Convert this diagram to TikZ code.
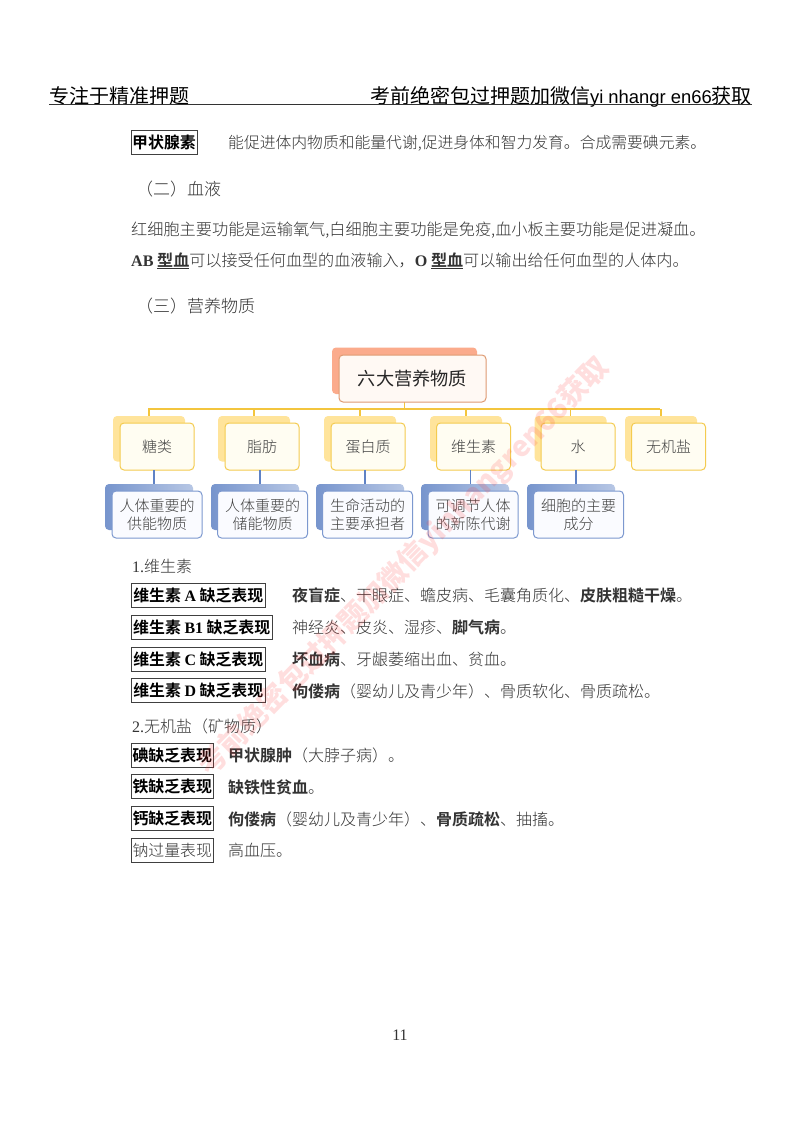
\documentclass[tikz,border=0pt]{standalone}
\usepackage{fontspec}
\setmainfont[UprightFont=* Light,BoldFont=* Bold]{Noto Sans CJK SC}
\newfontfamily\latserif{Liberation Serif}
\newfontfamily\latsans{Liberation Sans}
\newfontfamily\cjkreg{Noto Sans CJK SC}
\newcommand{\lat}[1]{{\latserif #1}}
\newcommand{\fs}[1]{\fontsize{#1pt}{18pt}\selectfont}
\usetikzlibrary{calc}
\definecolor{ink}{HTML}{333333}
\definecolor{cjkdark}{HTML}{404040}
\definecolor{busy}{HTML}{F3C53D}
\definecolor{busb}{HTML}{5F82C4}
\definecolor{rootb}{HTML}{DE9A72}
\definecolor{rootsh}{HTML}{FBAB8C}
\definecolor{ysh}{HTML}{FFE49B}
\definecolor{yb}{HTML}{F4CB4F}
\definecolor{bb}{HTML}{7C98CF}
\definecolor{rootfill}{HTML}{FFF9F4}
\definecolor{yfill}{HTML}{FFFDF2}
\definecolor{bfill}{HTML}{FAFBFF}
\tikzset{
  x=1pt,y=-1pt,
  body/.style={anchor=base west,inner sep=0pt,text=ink,font=\fs{16}},
  lab/.style={draw=black!75,line width=1pt,inner sep=0pt,text=black,font=\fs{15.9}\bfseries,minimum height=24pt,align=center},
  labthin/.style={draw=black!75,line width=1pt,inner sep=0pt,text=ink,font=\fs{15.9},minimum height=24pt,align=center},
  rootshadow/.style={fill=rootsh,rounded corners=4pt,minimum width=145pt,minimum height=46.5pt,inner sep=0pt},
  rootbox/.style={draw=rootb,line width=1pt,fill=rootfill,rounded corners=4pt,minimum width=147pt,minimum height=47pt,inner sep=0pt,text=black!85,font=\cjkreg\fs{18.2}},
  yshadow/.style={fill=ysh,rounded corners=4pt,minimum width=72pt,minimum height=45.5pt,inner sep=0pt},
  ybox/.style={draw=yb,line width=1pt,fill=yfill,rounded corners=4pt,minimum width=74pt,minimum height=47pt,inner sep=0pt,text=cjkdark,font=\fs{15}},
  bshadow/.style={left color=busb!85,right color=busb!45,rounded corners=4pt,minimum width=88pt,minimum height=46pt,inner sep=0pt},
  bbox/.style={draw=bb,line width=1pt,fill=bfill,rounded corners=4pt,minimum width=90pt,minimum height=47pt,inner sep=0pt,text=cjkdark,font=\fs{15},align=center},
  buslink/.style={draw=busy,line width=1.5pt},
  sublink/.style={draw=busb,line width=1.2pt},
}
\begin{document}
\begin{tikzpicture}
\path[use as bounding box,fill=white] (0,0) rectangle (800,1124);

% header
\node[anchor=base west,inner sep=0pt,text=black,font=\cjkreg\fs{20}] (hl) at (49,103) {专注于精准押题};
\node[anchor=base east,inner sep=0pt,text=black,font=\cjkreg\fs{20}] (hr) at (752,103) {考前绝密包过押题加微信{\latsans\fs{18.4}yi nhangr en66}获取};
\coordinate (rulel) at (49,104.5);
\coordinate (ruler) at (752,104.5);
\draw[line width=1.6pt,black!80] (rulel) -- (ruler);

% paragraph text
\node[lab,minimum width=66pt] (thy) at (164,142) {甲状腺素};
\node[body,font=\fs{15.8}] (thyt) at (228,148) {能促进体内物质和能量代谢,促进身体和智力发育。合成需要碘元素。};
\node[body,font=\fs{17}] (h2) at (136,195) {（二）血液};
\node[body,font=\fs{16.18}] (p1) at (131,235) {红细胞主要功能是运输氧气,白细胞主要功能是免疫,血小板主要功能是促进凝血。};
\node[body,font=\fs{16.1}] (p2) at (131,266) {\textbf{\lat{AB} \underline{型血}}可以接受任何血型的血液输入，\textbf{\lat{O} \underline{型血}}可以输出给任何血型的人体内。};
\node[body,font=\fs{17}] (h3) at (136,312) {（三）营养物质};

% diagram
\coordinate (busl) at (148,409);
\coordinate (busr) at (660,409);
\node[rootshadow] (rs) at (404.5,370.75) {};
\node[yshadow] (s1) at (149,438.75) {};
\node[yshadow] (s2) at (254,438.75) {};
\node[yshadow] (s3) at (360,438.75) {};
\node[yshadow] (s4) at (466,438.75) {};
\node[yshadow] (s5) at (570.5,438.75) {};
\node[yshadow] (s6) at (661,438.75) {};
\node[bshadow] (t1) at (149,507) {};
\node[bshadow] (t2) at (255,507) {};
\node[bshadow] (t3) at (360,507) {};
\node[bshadow] (t4) at (465,507) {};
\node[bshadow] (t5) at (571,507) {};
\draw[buslink] (busl) -- (busr);
\draw[buslink] (rs.south) -- (rs.south |- busl);
\foreach \n in {s1,s2,s3,s4,s5,s6} \draw[buslink] (\n.north) -- (\n.north |- busl);
\node[rootbox] (root) at (412.5,378.5) {六大营养物质};
\node[ybox] (b1) at (157,446.5) {糖类};
\node[ybox] (b2) at (262,446.5) {脂肪};
\node[ybox] (b3) at (368,446.5) {蛋白质};
\node[ybox] (b4) at (473.5,446.5) {维生素};
\node[ybox] (b5) at (578,446.5) {水};
\node[ybox] (b6) at (668.5,446.5) {无机盐};
\coordinate (c1) at (154,470);
\coordinate (c2) at (260,470);
\coordinate (c3) at (365,470);
\coordinate (c4) at (470.5,470);
\coordinate (c5) at (576,470);
\foreach \i in {1,2,3,4,5} \draw[sublink] (c\i) -- (c\i |- t\i.north);
\node[bbox] (d1) at (157,514.5) {人体重要的\\供能物质};
\node[bbox] (d2) at (262.5,514.5) {人体重要的\\储能物质};
\node[bbox] (d3) at (367.5,514.5) {生命活动的\\主要承担者};
\node[bbox] (d4) at (473,514.5) {可调节人体\\的新陈代谢};
\node[bbox] (d5) at (578.5,514.5) {细胞的主要\\成分};

% vitamins
\node[body] (v0) at (132,572) {\lat{1.}维生素};
\node[lab,minimum width=133.5pt] (va) at (198.25,595) {维生素 \lat{A} 缺乏表现};
\node[lab,minimum width=140.5pt] (vb) at (201.75,627) {维生素 \lat{B1} 缺乏表现};
\node[lab,minimum width=133.5pt] (vc) at (198.25,659) {维生素 \lat{C} 缺乏表现};
\node[lab,minimum width=133.5pt] (vd) at (198.25,690.5) {维生素 \lat{D} 缺乏表现};
\node[body] (vat) at (292,601) {\textbf{夜盲症}、干眼症、蟾皮病、毛囊角质化、\textbf{皮肤粗糙干燥}。};
\node[body] (vbt) at (292,633) {神经炎、皮炎、湿疹、\textbf{脚气病}。};
\node[body] (vct) at (292,665) {\textbf{坏血病}、牙龈萎缩出血、贫血。};
\node[body] (vdt) at (292,697) {\textbf{佝偻病}（婴幼儿及青少年）、骨质软化、骨质疏松。};

% minerals
\node[body] (m0) at (132,732) {\lat{2.}无机盐（矿物质）};
\node[lab,minimum width=81.5pt] (ma) at (172.25,755) {碘缺乏表现};
\node[lab,minimum width=81.5pt] (mb) at (172.25,786.75) {铁缺乏表现};
\node[lab,minimum width=81.5pt] (mc) at (172.25,818.5) {钙缺乏表现};
\node[labthin,minimum width=81.5pt] (md) at (172.25,850) {钠过量表现};
\node[body] (mat) at (228,761) {\textbf{甲状腺肿}（大脖子病）。};
\node[body] (mbt) at (228,793) {\textbf{缺铁性贫血}。};
\node[body] (mct) at (228,825) {\textbf{佝偻病}（婴幼儿及青少年）、\textbf{骨质疏松}、抽搐。};
\node[body] (mdt) at (228,856) {高血压。};

% page number
\node[inner sep=0pt,text=ink,font=\latserif\fs{16}] (pg) at (400,1035) {11};

% watermark
\node[rotate=45.6,inner sep=0pt,text=red!80,opacity=.16,font=\cjkreg\bfseries\fs{28.5}] (wm) at (404,567) {考前绝密包过押题加微信yinhangren66获取};
\end{tikzpicture}
\end{document}
